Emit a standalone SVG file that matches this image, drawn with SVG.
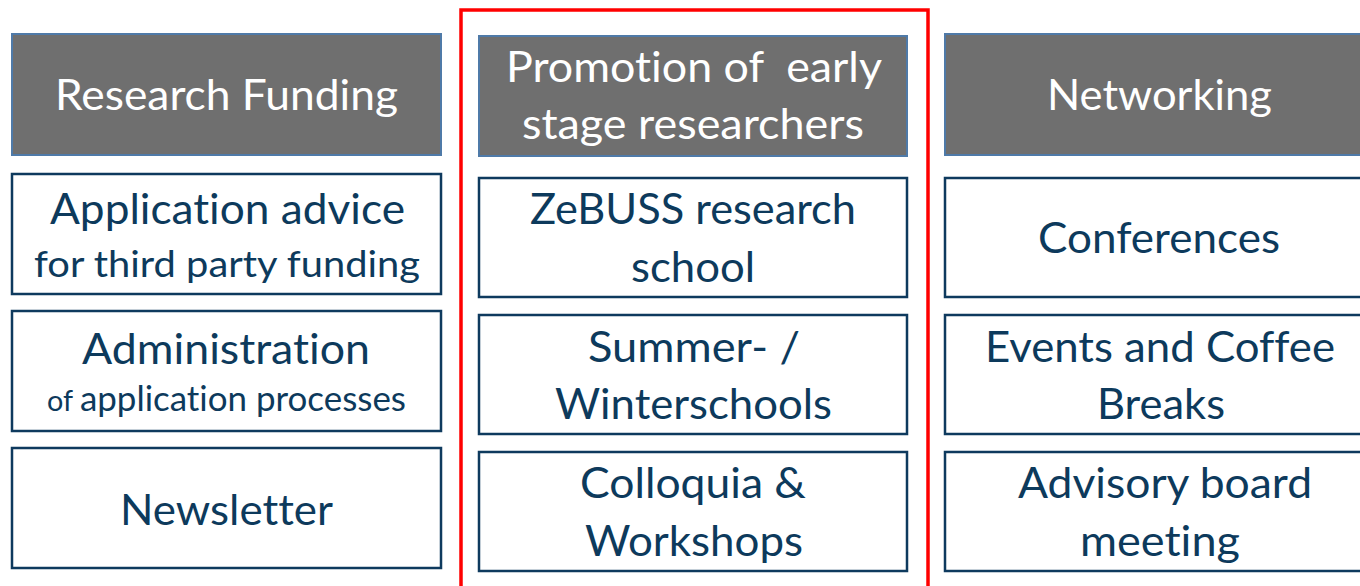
<svg xmlns="http://www.w3.org/2000/svg" width="1360" height="586" viewBox="0 0 1360 586">
<style>
.hdr{fill:#6f6f6f;stroke:#4f7aa8;stroke-width:2}
.box{fill:#ffffff;stroke:#0e3a5e;stroke-width:2.5}
.ht{font-family:Lato,"Open Sans","Liberation Sans",sans-serif;fill:#ffffff;text-anchor:middle;font-size:42px;font-variant-ligatures:none}
.bt{font-family:Lato,"Open Sans","Liberation Sans",sans-serif;fill:#0d3a5c;text-anchor:middle;font-size:42px;font-variant-ligatures:none}
.sm{font-size:36px}
</style>
<rect width="1360" height="586" fill="#ffffff"/>
<g id="research-funding">
<rect class="hdr" x="12" y="34" width="429" height="121"/>
<text class="ht" x="226.5" y="110" textLength="343" lengthAdjust="spacingAndGlyphs">Research Funding</text>
</g>
<g id="application-advice">
<rect class="box" x="12" y="174" width="429" height="120"/>
<text class="bt" x="227.5" y="224" textLength="355" lengthAdjust="spacingAndGlyphs">Application advice</text>
<text class="bt sm" x="227" y="277" textLength="386" lengthAdjust="spacingAndGlyphs">for third party funding</text>
</g>
<g id="administration">
<rect class="box" x="12" y="311" width="429" height="120"/>
<text class="bt" x="226" y="364" textLength="288" lengthAdjust="spacingAndGlyphs">Administration</text>
<text class="bt" x="226.5" y="411" textLength="359" lengthAdjust="spacingAndGlyphs"><tspan font-size="28px">of </tspan><tspan font-size="34px">application processes</tspan></text>
</g>
<g id="newsletter">
<rect class="box" x="12" y="448" width="429" height="120"/>
<text class="bt" x="226.5" y="525" textLength="213" lengthAdjust="spacingAndGlyphs">Newsletter</text>
</g>
<g id="promotion">
<rect class="hdr" x="479" y="36" width="428" height="120"/>
<text class="ht" x="694" y="82" textLength="376" lengthAdjust="spacingAndGlyphs" xml:space="preserve" style="white-space:pre">Promotion of  early</text>
<text class="ht" x="693" y="139" textLength="342" lengthAdjust="spacingAndGlyphs">stage researchers</text>
</g>
<g id="zebuss">
<rect class="box" x="479" y="178" width="428" height="119"/>
<text class="bt" x="693" y="224" textLength="326" lengthAdjust="spacingAndGlyphs">ZeBUSS research</text>
<text class="bt" x="693" y="282" textLength="124" lengthAdjust="spacingAndGlyphs">school</text>
</g>
<g id="summer-winterschools">
<rect class="box" x="479" y="315" width="428" height="119"/>
<text class="bt" x="694" y="362" textLength="212" lengthAdjust="spacingAndGlyphs">Summer- /</text>
<text class="bt" x="693.5" y="419" textLength="277" lengthAdjust="spacingAndGlyphs">Winterschools</text>
</g>
<g id="colloquia">
<rect class="box" x="479" y="452" width="428" height="119"/>
<text class="bt" x="693" y="498" textLength="226" lengthAdjust="spacingAndGlyphs">Colloquia &amp;</text>
<text class="bt" x="694" y="556" textLength="218" lengthAdjust="spacingAndGlyphs">Workshops</text>
</g>
<g id="early-stage-frame">
<rect x="461" y="10" width="467" height="590" fill="none" stroke="#ff0000" stroke-width="3.5"/>
</g>
<g id="networking">
<rect class="hdr" x="945" y="34" width="420" height="121"/>
<text class="ht" x="1159.5" y="110" textLength="225" lengthAdjust="spacingAndGlyphs">Networking</text>
</g>
<g id="conferences">
<rect class="box" x="945" y="178" width="420" height="119"/>
<text class="bt" x="1159" y="253" textLength="242" lengthAdjust="spacingAndGlyphs">Conferences</text>
</g>
<g id="events">
<rect class="box" x="945" y="315" width="420" height="119"/>
<text class="bt" x="1160" y="362" textLength="350" lengthAdjust="spacingAndGlyphs">Events and Coffee</text>
<text class="bt" x="1161" y="419" textLength="128" lengthAdjust="spacingAndGlyphs">Breaks</text>
</g>
<g id="advisory-board">
<rect class="box" x="945" y="452" width="420" height="119"/>
<text class="bt" x="1165" y="498" textLength="294" lengthAdjust="spacingAndGlyphs">Advisory board</text>
<text class="bt" x="1160" y="556" textLength="160" lengthAdjust="spacingAndGlyphs">meeting</text>
</g>
<g id="connectors"></g>
</svg>
